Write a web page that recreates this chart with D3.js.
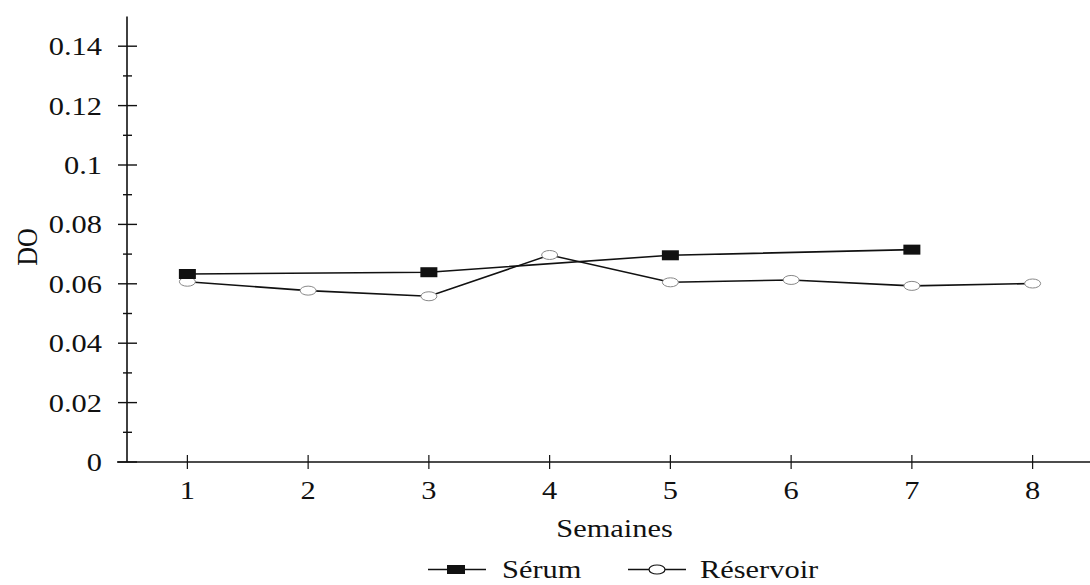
<!DOCTYPE html>
<html><head><meta charset="utf-8">
<script src="https://cdn.jsdelivr.net/npm/d3@7"></script>
<style>
html,body{margin:0;padding:0;background:#fff;}
</style></head>
<body>
<svg id="chart" width="1090" height="585"></svg>
<script>
const weeks = [1,2,3,4,5,6,7,8];
const serumWeeks = [1,3,5,7];
const serumValues = [0.0633,0.0639,0.0696,0.0715];
const reservoirWeeks = [1,2,3,4,5,6,7,8];
const reservoirValues = [0.0607,0.0577,0.0558,0.0697,0.0605,0.0613,0.0593,0.0601];
const yMajorTicks = [0,0.02,0.04,0.06,0.08,0.1,0.12,0.14];
const yMinorTicks = [0.01,0.03,0.05,0.07,0.09,0.11,0.13];
const xLabel = "Semaines";
const yLabel = "DO";
const seriesNames = ["Sérum","Réservoir"];

const FONT = "Liberation Serif";
const FS = 26;
const SX = 1.17;
const ink = "#111";
const svg = d3.select("#chart");
const x = d3.scaleLinear().domain([0.5, 8.5]).range([127, 1093]);
const y = d3.scaleLinear().domain([0, 0.15]).range([462, 16.5]);

function label(px, py, str, anchor, rot){
  const g = svg.append("g").attr("transform", `translate(${px},${py})` + (rot ? " rotate(-90) scale(1,"+SX+")" : " scale("+SX+",1)"));
  g.append("text").attr("font-family",FONT).attr("font-size",FS).attr("fill",ink)
    .attr("text-anchor",anchor||"start").text(str);
}

// axes
svg.append("line").attr("x1",117).attr("x2",1090).attr("y1",y(0)).attr("y2",y(0)).attr("stroke",ink).attr("stroke-width",1.6);
svg.append("line").attr("x1",x(0.5)).attr("x2",x(0.5)).attr("y1",y(0)).attr("y2",y(0.15)).attr("stroke",ink).attr("stroke-width",1.6);

svg.selectAll(".ymaj").data(yMajorTicks).enter().append("line")
  .attr("x1",x(0.5)-9).attr("x2",x(0.5)+10).attr("y1",d=>y(d)).attr("y2",d=>y(d)).attr("stroke",ink).attr("stroke-width",1.4);
svg.selectAll(".ymin").data(yMinorTicks).enter().append("line")
  .attr("x1",x(0.5)-4).attr("x2",x(0.5)+5).attr("y1",d=>y(d)).attr("y2",d=>y(d)).attr("stroke",ink).attr("stroke-width",1.4);
yMajorTicks.forEach(d => label(102, y(d)+9, String(+d.toFixed(2)), "end"));

svg.selectAll(".xt").data(weeks).enter().append("line")
  .attr("x1",d=>x(d)).attr("x2",d=>x(d)).attr("y1",y(0)-7).attr("y2",y(0)+7).attr("stroke",ink).attr("stroke-width",1.2);
weeks.forEach(d => label(x(d), 499, String(d), "middle"));

label(614.5, 537, xLabel, "middle");
label(37, 247, yLabel, "middle", true);

// series
const line = d3.line().x(d=>x(d[0])).y(d=>y(d[1]));
const serum = serumWeeks.map((w,i)=>[w,serumValues[i]]);
const res = reservoirWeeks.map((w,i)=>[w,reservoirValues[i]]);

svg.append("path").datum(res).attr("d",line).attr("fill","none").attr("stroke",ink).attr("stroke-width",1.6);
svg.append("path").datum(serum).attr("d",line).attr("fill","none").attr("stroke",ink).attr("stroke-width",1.6);

svg.selectAll(".rm").data(res).enter().append("ellipse")
  .attr("cx",d=>x(d[0])).attr("cy",d=>y(d[1])).attr("rx",8).attr("ry",4.5)
  .attr("fill","#fff").attr("stroke","#888").attr("stroke-width",1);
svg.selectAll(".sm").data(serum).enter().append("rect")
  .attr("x",d=>x(d[0])-8.5).attr("y",d=>y(d[1])-5).attr("width",17).attr("height",10).attr("fill",ink);

// legend
const ly = 569.5;
svg.append("line").attr("x1",428).attr("x2",486).attr("y1",ly).attr("y2",ly).attr("stroke",ink).attr("stroke-width",1.6);
svg.append("rect").attr("x",447).attr("y",ly-4.5).attr("width",18).attr("height",9).attr("fill",ink);
label(502, 578, seriesNames[0], "start");
svg.append("line").attr("x1",628).attr("x2",686).attr("y1",ly).attr("y2",ly).attr("stroke",ink).attr("stroke-width",1.6);
svg.append("ellipse").attr("cx",657).attr("cy",ly).attr("rx",8).attr("ry",4.5).attr("fill","#fff").attr("stroke",ink).attr("stroke-width",1.2);
label(700, 578, seriesNames[1], "start");
</script>
</body></html>
